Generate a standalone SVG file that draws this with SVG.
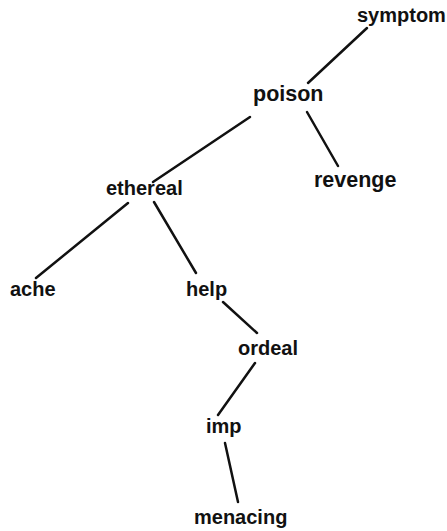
<svg xmlns="http://www.w3.org/2000/svg" width="447" height="531" viewBox="0 0 447 531">
<style>
text{font-family:"Liberation Sans",Arial,sans-serif;font-weight:bold;font-size:20px;fill:#111}
.big{font-size:21.5px}
#edges line{stroke:#111;stroke-width:2.5;stroke-linecap:round}
</style>
<rect width="447" height="531" fill="#fff"/>
<g id="edges">
<line x1="367" y1="28" x2="308" y2="83"/>
<line x1="250" y1="117" x2="153" y2="182"/>
<line x1="307" y1="112" x2="338" y2="166"/>
<line x1="128" y1="203" x2="36" y2="278"/>
<line x1="154" y1="202" x2="196" y2="273"/>
<line x1="223" y1="302" x2="257" y2="333"/>
<line x1="255" y1="363" x2="218" y2="415"/>
<line x1="225" y1="443" x2="238" y2="502"/>
</g>
<g id="symptom"><text x="357" y="22">symptom</text></g>
<g id="poison"><text class="big" x="253" y="101">poison</text></g>
<g id="revenge"><text class="big" x="314" y="187">revenge</text></g>
<g id="ethereal"><text x="106" y="195">ethereal</text></g>
<g id="ache"><text x="10" y="296">ache</text></g>
<g id="help"><text x="186" y="296">help</text></g>
<g id="ordeal"><text x="238" y="355">ordeal</text></g>
<g id="imp"><text x="206" y="433">imp</text></g>
<g id="menacing"><text x="194" y="524">menacing</text></g>
</svg>
